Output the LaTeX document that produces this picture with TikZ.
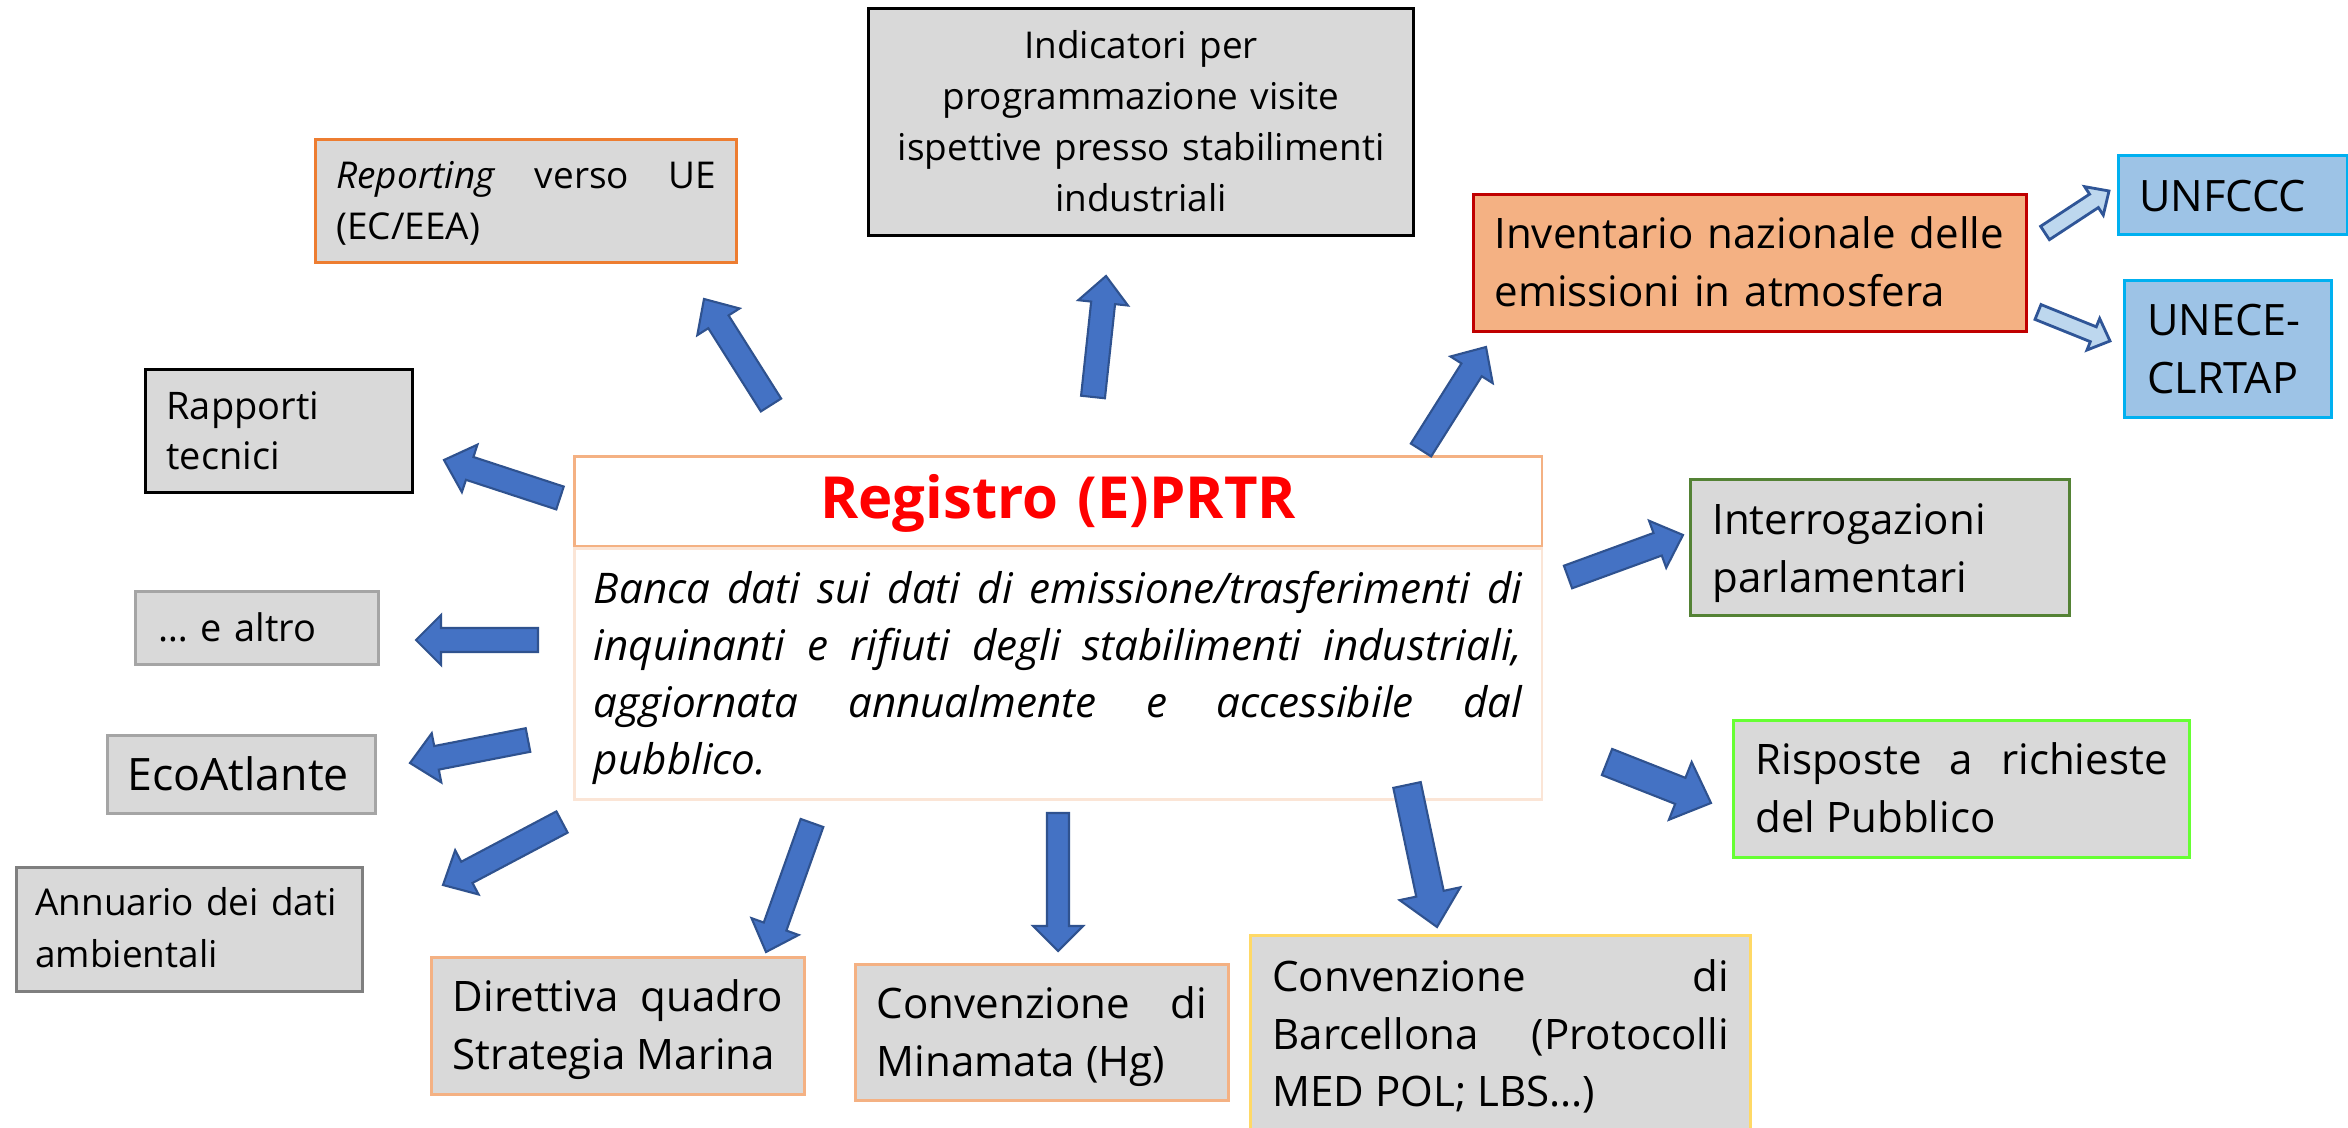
\documentclass[tikz,border=0pt]{standalone}
\usepackage{fontspec}
\setmainfont{Open Sans}
\usetikzlibrary{calc}
\definecolor{boxgrey}{HTML}{D9D9D9}
\definecolor{orRep}{HTML}{ED7D31}
\definecolor{lightor}{HTML}{F4B183}
\definecolor{paleor}{HTML}{FBE5D6}
\definecolor{invfill}{HTML}{F4B183}
\definecolor{invdraw}{HTML}{C00000}
\definecolor{unfill}{HTML}{9DC3E6}
\definecolor{undraw}{HTML}{00B0F0}
\definecolor{greyline}{HTML}{A5A5A5}
\definecolor{darkgreyline}{HTML}{7F7F7F}
\definecolor{dkgreen}{HTML}{548235}
\definecolor{brgreen}{HTML}{66FF33}
\definecolor{yelline}{HTML}{FFD966}
\definecolor{arrfill}{HTML}{4472C4}
\definecolor{arrdraw}{HTML}{2F528F}
\definecolor{larrfill}{HTML}{BDD7EE}
\definecolor{larrdraw}{HTML}{2F5597}
\definecolor{titlered}{HTML}{FF0000}
\newcommand{\szA}{\fontsize{10.5pt}{14.5pt}\selectfont}
\newcommand{\szR}{\fontsize{10.8pt}{14.1pt}\selectfont}
\newcommand{\szN}{\fontsize{10.5pt}{14.8pt}\selectfont}
\newcommand{\szB}{\fontsize{11.95pt}{16.4pt}\selectfont}
\newcommand{\szU}{\fontsize{12.3pt}{16.5pt}\selectfont}
\newcommand{\szE}{\fontsize{12.7pt}{16pt}\selectfont}
\newcommand{\szD}{\fontsize{12pt}{16.2pt}\selectfont}
\newcommand{\szT}{\fontsize{16.5pt}{20pt}\selectfont\bfseries}
\newcommand{\barrow}[6][]{%
  \path ($(#3)!#6!(#2)$) coordinate (hb);
  \draw[blockarrow,#1] ($(#2)!#4!90:(#3)$) -- ($(hb)!#4!90:(#3)$) -- ($(hb)!#5!90:(#3)$) -- (#3) -- ($(hb)!#5!-90:(#3)$) -- ($(hb)!#4!-90:(#3)$) -- ($(#2)!#4!-90:(#3)$) -- cycle;
}
\tikzset{
  gbox/.style={rectangle, fill=boxgrey, line width=0.8pt, anchor=north west, inner ysep=0pt, minimum height=0pt, align=left, text=black},
  blockarrow/.style={fill=arrfill, draw=arrdraw, line width=0.6pt, line join=miter},
  lightarrow/.style={fill=larrfill, draw=larrdraw, line width=0.8pt},
}
\begin{document}
\begin{tikzpicture}[x=0.01cm,y=-0.01cm]
\useasboundingbox (0,0) rectangle (2348,1128);
\clip (0,0) rectangle (2348,1128);
\fill[white] (0,0) rectangle (2348,1128);

% boxes
\node[gbox, draw=orRep, inner xsep=0.21cm, text width=3.79cm, text height=0.49cm, text depth=0.74cm, align=justify, font=\szA] (rep) at (314,138) {\textit{Reporting} verso UE\break (EC/EEA)};
\node[gbox, draw=black, inner xsep=0.2cm, text width=5.05cm, text height=0.50cm, text depth=1.77cm, align=center, font=\szA] (ind) at (867,7) {Indicatori per\\programmazione visite\\ispettive presso stabilimenti\\industriali};
\node[gbox, fill=invfill, draw=invdraw, inner xsep=0.21cm, text width=5.11cm, text height=0.54cm, text depth=0.83cm, font=\szB] (inv) at (1472,193) {Inventario nazionale delle\\emissioni in atmosfera};
\node[gbox, fill=unfill, draw=undraw, inner xsep=0.21cm, text width=1.87cm, text height=0.56cm, text depth=0.23cm, font=\szU] (unf) at (2117,154) {UNFCCC};
\node[gbox, fill=unfill, draw=undraw, inner xsep=0.23cm, text width=1.61cm, text height=0.55cm, text depth=0.82cm, font=\szU] (une) at (2123,279) {UNECE-\\CLRTAP};
\node[gbox, fill=white, draw=lightor, inner xsep=0.2cm, text width=9.27cm, text height=0.62cm, text depth=0.28cm, align=center, font=\szT, text=titlered] (reg) at (573,455) {Registro (E)PRTR};
\node[gbox, fill=white, draw=paleor, inner xsep=0.195cm, text width=9.28cm, text height=0.55cm, text depth=1.96cm, align=justify, font=\szD\itshape] (desc) at (573,547) {Banca dati sui dati di emissione/trasferimenti di\break inquinanti e rifiuti degli stabilimenti industriali,\break aggiornata annualmente e accessibile dal\break pubblico.};
\node[gbox, draw=black, inner xsep=0.21cm, text width=2.25cm, text height=0.50cm, text depth=0.73cm, font=\szR] (rap) at (144,368) {Rapporti\\tecnici};
\node[gbox, draw=greyline, inner xsep=0.23cm, text width=1.97cm, text height=0.50cm, text depth=0.23cm, font=\szR] (alt) at (134,590) {\dots\ e altro};
\node[gbox, draw=greyline, inner xsep=0.20cm, text width=2.28cm, text height=0.555cm, text depth=0.225cm, font=\szE] (eco) at (106,734) {EcoAtlante};
\node[gbox, draw=darkgreyline, inner xsep=0.19cm, text width=3.08cm, text height=0.485cm, text depth=0.755cm, font=\szN] (ann) at (15,866) {Annuario dei dati\\ambientali};
\node[gbox, draw=dkgreen, inner xsep=0.22cm, text width=3.35cm, text height=0.55cm, text depth=0.81cm, font=\szB] (int) at (1689,478) {Interrogazioni\\parlamentari};
\node[gbox, draw=brgreen, inner xsep=0.22cm, text width=4.12cm, text height=0.54cm, text depth=0.83cm, align=justify, font=\szB] (ris) at (1732,719) {Risposte a richieste\break del Pubblico};
\node[gbox, draw=lightor, inner xsep=0.215cm, text width=3.30cm, text height=0.54cm, text depth=0.83cm, align=justify, font=\szB] (dir) at (430,956) {Direttiva quadro\break Strategia Marina};
\node[gbox, draw=lightor, inner xsep=0.215cm, text width=3.30cm, text height=0.54cm, text depth=0.82cm, align=justify, font=\szB] (min) at (854,963) {Convenzione di\break Minamata (Hg)};
\node[gbox, draw=yelline, inner xsep=0.22cm, text width=4.56cm, text height=0.56cm, text depth=2.0cm, align=justify, font=\szB] (bar) at (1249,934) {Convenzione di\break Barcellona (Protocolli\break MED POL; LBS...)};

% arrow end points
\coordinate (t1) at (771,405); \coordinate (p1) at (704,299);
\coordinate (t2) at (1093,397); \coordinate (p2) at (1106,276);
\coordinate (t3) at (1421,450); \coordinate (p3) at (1486,347);
\coordinate (t4) at (1568,577); \coordinate (p4) at (1683,535);
\coordinate (t5) at (1607,762); \coordinate (p5) at (1711,803);
\coordinate (t6) at (1407,785); \coordinate (p6) at (1437,927);
\coordinate (t7) at (1058,813); \coordinate (p7) at (1058,951);
\coordinate (t8) at (812,823); \coordinate (p8) at (766,952);
\coordinate (t9) at (562,822); \coordinate (p9) at (443,885);
\coordinate (t10) at (528,740); \coordinate (p10) at (410,763);
\coordinate (t11) at (538,640); \coordinate (p11) at (416,640);
\coordinate (t12) at (560,498); \coordinate (p12) at (444,460);
\coordinate (t13) at (2045,233); \coordinate (p13) at (2109,191);
\coordinate (t14) at (2038,312); \coordinate (p14) at (2110,341);

\barrow{t1}{p1}{0.12cm}{0.25cm}{0.27cm}
\barrow{t2}{p2}{0.12cm}{0.25cm}{0.27cm}
\barrow{t3}{p3}{0.12cm}{0.25cm}{0.27cm}
\barrow{t4}{p4}{0.12cm}{0.25cm}{0.27cm}
\barrow{t5}{p5}{0.14cm}{0.31cm}{0.33cm}
\barrow{t6}{p6}{0.14cm}{0.31cm}{0.34cm}
\barrow{t7}{p7}{0.11cm}{0.25cm}{0.25cm}
\barrow{t8}{p8}{0.12cm}{0.25cm}{0.27cm}
\barrow{t9}{p9}{0.12cm}{0.25cm}{0.27cm}
\barrow{t10}{p10}{0.12cm}{0.25cm}{0.27cm}
\barrow{t11}{p11}{0.12cm}{0.25cm}{0.25cm}
\barrow{t12}{p12}{0.12cm}{0.25cm}{0.27cm}
\barrow[lightarrow]{t13}{p13}{0.08cm}{0.17cm}{0.18cm}
\barrow[lightarrow]{t14}{p14}{0.08cm}{0.17cm}{0.18cm}
\end{tikzpicture}
\end{document}
